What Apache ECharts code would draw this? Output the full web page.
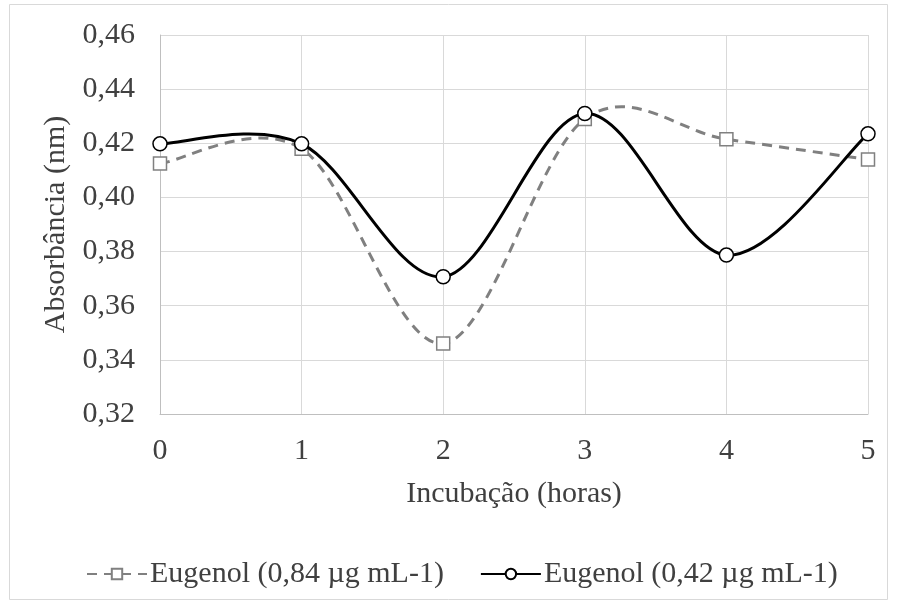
<!DOCTYPE html>
<html>
<head>
<meta charset="utf-8">
<script src="https://cdn.jsdelivr.net/npm/echarts@6/dist/echarts.min.js"></script>
<style>
  html, body { margin: 0; padding: 0; background: #fff; }
  #chart { width: 897px; height: 604px; }
</style>
</head>
<body>
<div id="chart"></div>
<script>
// Incubation time (hours)
const hours = [0, 1, 2, 3, 4, 5];
// Absorbance readings for each eugenol concentration
const eugenol084 = [0.4125, 0.418, 0.346, 0.429, 0.4215, 0.414];
const eugenol042 = [0.4198, 0.4198, 0.3707, 0.431, 0.3787, 0.4235];
const seriesNames = ['Eugenol (0,84 µg mL-1)', 'Eugenol (0,42 µg mL-1)'];
// Y axis tick values
const yTicks = { min: 0.32, max: 0.46, step: 0.02 };

const FONT = '"Liberation Serif", "Times New Roman", serif';
const TEXT = '#404040';
const FS = 30;

const toPairs = (xs, ys) => xs.map((x, i) => [x, ys[i]]);

// Smooth curve through the points (Catmull-Rom style cubic Béziers),
// positioned in pixel space through the chart's own coordinate system.
function smoothCurve(xs, ys, lineStyle) {
  return function (params, api) {
    if (params.dataIndex !== 0) return null;
    const p = xs.map((x, i) => api.coord([x, ys[i]]));
    const n = p.length;
    let d = 'M' + p[0][0] + ',' + p[0][1];
    for (let i = 0; i < n - 1; i++) {
      const p0 = p[Math.max(0, i - 1)];
      const p1 = p[i];
      const p2 = p[i + 1];
      const p3 = p[Math.min(n - 1, i + 2)];
      const c1x = p1[0] + (p2[0] - p0[0]) / 6;
      const c1y = p1[1] + (p2[1] - p0[1]) / 6;
      const c2x = p2[0] - (p3[0] - p1[0]) / 6;
      const c2y = p2[1] - (p3[1] - p1[1]) / 6;
      d += ' C' + c1x + ',' + c1y + ' ' + c2x + ',' + c2y + ' ' + p2[0] + ',' + p2[1];
    }
    return {
      type: 'path',
      shape: { pathData: d },
      style: Object.assign({ fill: 'none' }, lineStyle),
      silent: true
    };
  };
}

const chart = echarts.init(document.getElementById('chart'), null, { renderer: 'canvas' });

chart.setOption({
  animation: false,
  backgroundColor: '#ffffff',
  graphic: [{
    type: 'rect',
    shape: { x: 9.5, y: 4.5, width: 878, height: 595 },
    style: { fill: 'none', stroke: '#d9d9d9', lineWidth: 1 },
    silent: true
  }],
  grid: { left: 160, right: 29, top: 35, bottom: 190 },
  xAxis: {
    type: 'value',
    min: 0, max: 5, interval: 1,
    name: 'Incubação (horas)',
    nameLocation: 'middle',
    nameGap: 65,
    nameTextStyle: { fontFamily: FONT, fontSize: FS, color: TEXT },
    axisLine: { show: true, lineStyle: { color: '#bfbfbf', width: 1 } },
    axisTick: { show: false },
    axisLabel: { fontFamily: FONT, fontSize: FS, color: TEXT, margin: 22 },
    splitLine: { show: true, lineStyle: { color: '#d9d9d9', width: 1 } }
  },
  yAxis: {
    type: 'value',
    min: yTicks.min, max: yTicks.max, interval: yTicks.step,
    name: 'Absorbância (nm)',
    nameLocation: 'middle',
    nameGap: 85,
    nameTextStyle: { fontFamily: FONT, fontSize: FS, color: TEXT },
    axisLine: { show: true, lineStyle: { color: '#bfbfbf', width: 1 } },
    axisTick: { show: false },
    axisLabel: {
      fontFamily: FONT, fontSize: FS, color: TEXT, margin: 25,
      formatter: v => v.toFixed(2).replace('.', ',')
    },
    splitLine: { show: true, lineStyle: { color: '#d9d9d9', width: 1 } }
  },
  legend: {
    top: 554,
    left: 81,
    itemWidth: 60,
    itemHeight: 13,
    itemGap: 36,
    textStyle: { fontFamily: FONT, fontSize: FS, color: TEXT, padding: [0, 0, 0, -2] },
    lineStyle: { opacity: 1 },
    data: seriesNames
  },
  series: [
    {
      type: 'custom',
      renderItem: smoothCurve(hours, eugenol084, { stroke: '#808080', lineWidth: 3, lineDash: [10, 7] }),
      data: [0],
      z: 1,
      silent: true
    },
    {
      name: seriesNames[0],
      type: 'line',
      data: toPairs(hours, eugenol084),
      symbol: 'rect',
      symbolSize: 13,
      lineStyle: { color: '#808080', width: 3, type: [10, 7], opacity: 0 },
      itemStyle: { color: '#ffffff', borderColor: '#808080', borderWidth: 1.5 },
      z: 2
    },
    {
      type: 'custom',
      renderItem: smoothCurve(hours, eugenol042, { stroke: '#000000', lineWidth: 3 }),
      data: [0],
      z: 3,
      silent: true
    },
    {
      name: seriesNames[1],
      type: 'line',
      data: toPairs(hours, eugenol042),
      symbol: 'circle',
      symbolSize: 14,
      lineStyle: { color: '#000000', width: 3, opacity: 0 },
      itemStyle: { color: '#ffffff', borderColor: '#000000', borderWidth: 1.5 },
      z: 4
    }
  ]
});
</script>
</body>
</html>
